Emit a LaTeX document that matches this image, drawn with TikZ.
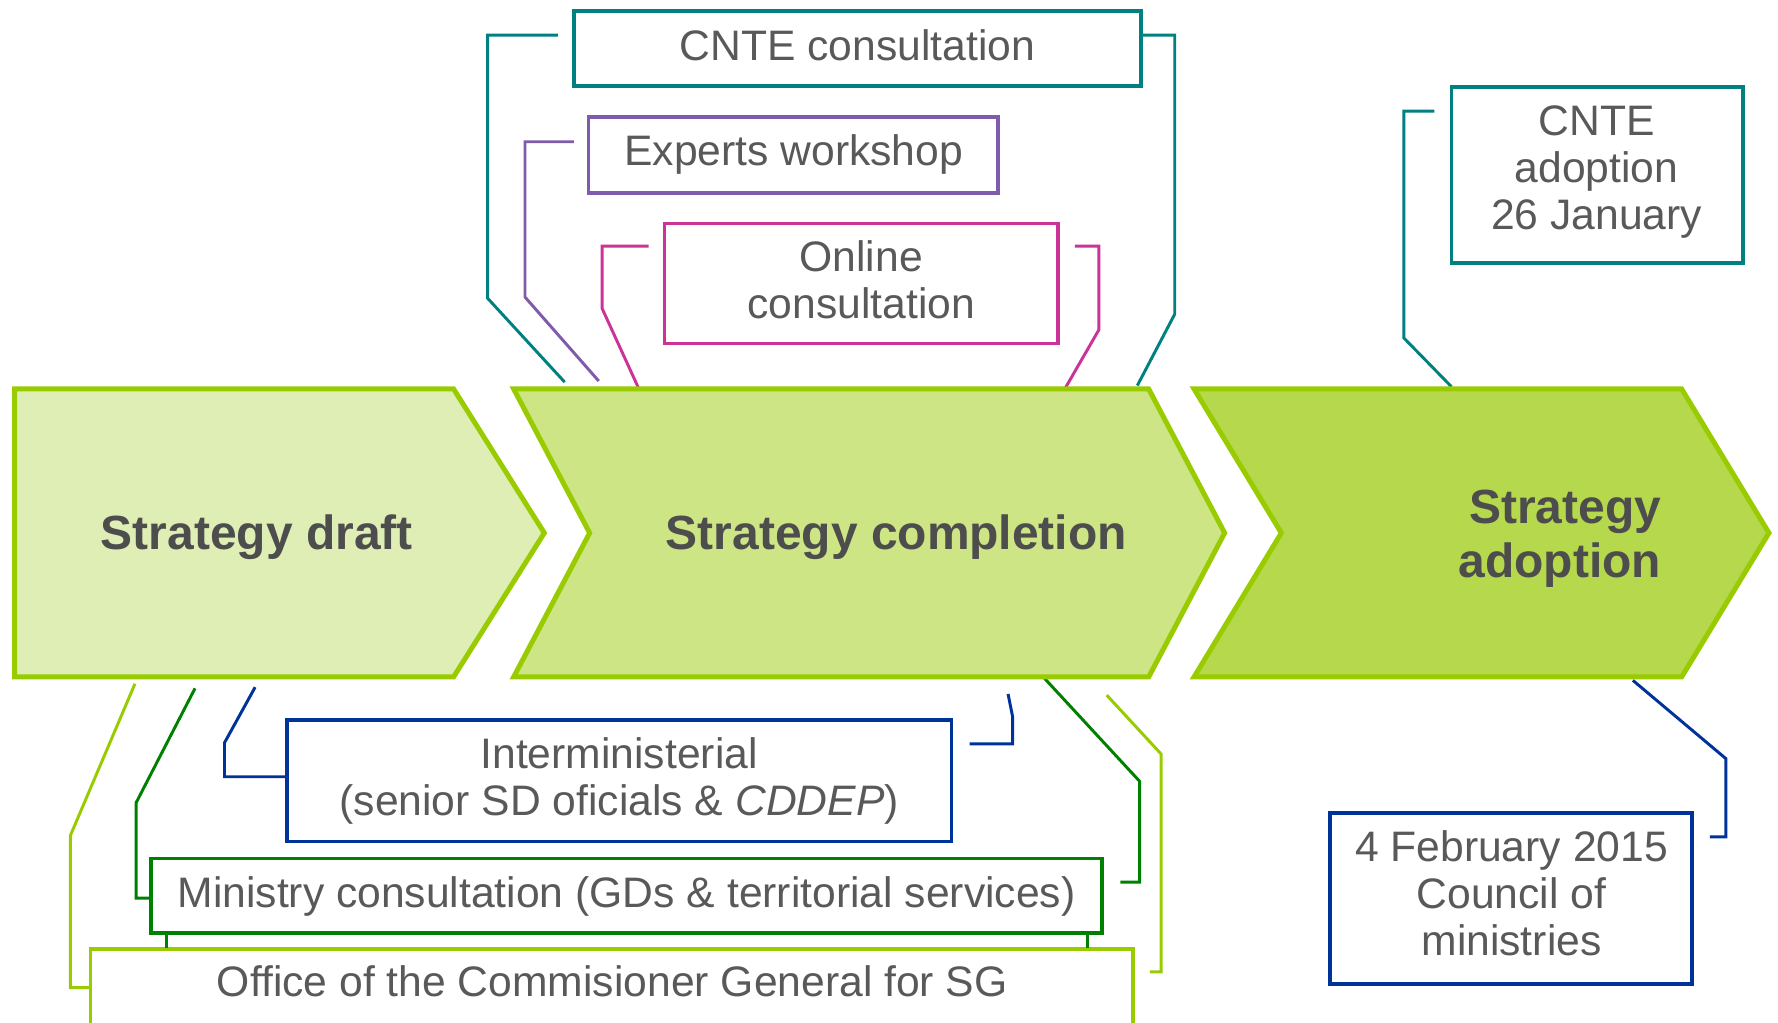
\documentclass[tikz,border=0pt]{standalone}
\usepackage{fontspec}
\setmainfont{Liberation Sans}
\definecolor{limeg}{HTML}{99CC00}
\definecolor{fdraft}{HTML}{DFEEB4}
\definecolor{fcomp}{HTML}{CDE584}
\definecolor{fadopt}{HTML}{B5D84C}
\definecolor{tealc}{HTML}{008080}
\definecolor{purp}{HTML}{7F5BAB}
\definecolor{magc}{HTML}{CC3399}
\definecolor{bluec}{HTML}{003399}
\definecolor{dgreen}{HTML}{008000}
\definecolor{boldtxt}{HTML}{4D4D4D}
\definecolor{regtxt}{HTML}{595959}
\begin{document}
\begin{tikzpicture}[x=1pt,y=-1pt,
  frame/.style={draw, line width=3.3pt, fill=white, inner sep=0pt},
  lab/.style={inner sep=0pt, text=regtxt, font=\fontsize{37.6}{41.5}\selectfont},
  lab1/.style={lab, text height=27pt, text depth=0pt},
  labm/.style={lab, align=center},
  big/.style={inner sep=0pt, text=boldtxt, font=\fontsize{42.3}{47}\selectfont\bfseries},
  conn/.style={line width=2.6pt, line join=miter},
  chev/.style={draw=limeg, line width=4.4pt, line join=miter}]
\clip (0,0) rectangle (1568,902);
\fill[white] (0,0) rectangle (1568,902);
% connector end points
\coordinate (c1s) at (492,31);   \coordinate (c1e) at (498,337);
\coordinate (c2s) at (1008,31);  \coordinate (c2e) at (1003,340);
\coordinate (c3s) at (506,125);  \coordinate (c3e) at (528,336);
\coordinate (c4s) at (572,217);  \coordinate (c4e) at (563,342);
\coordinate (c5s) at (948,217);  \coordinate (c5e) at (939,343);
\coordinate (c6s) at (1265,98);  \coordinate (c6e) at (1280,341);
\coordinate (c7s) at (225,606);  \coordinate (c7e) at (253,685);
\coordinate (c8s) at (889,612);  \coordinate (c8e) at (855,656);
\coordinate (c9s) at (172,607);  \coordinate (c9e) at (133,792);
\coordinate (c10s) at (920,597); \coordinate (c10e) at (988,778);
\coordinate (c11s) at (119,603); \coordinate (c11e) at (80,871);
\coordinate (c12s) at (976,613); \coordinate (c12e) at (1014,857);
\coordinate (c13s) at (1440,600); \coordinate (c13e) at (1508,738);
% connectors
\draw[conn, draw=tealc] (c1s) -- (430,31) -- (430,263) -- (c1e);
\draw[conn, draw=tealc] (c2s) -- (1036,31) -- (1036,277) -- (c2e);
\draw[conn, draw=purp] (c3s) -- (463,125) -- (463,262) -- (c3e);
\draw[conn, draw=magc] (c4s) -- (531,217) -- (531,272) -- (c4e);
\draw[conn, draw=magc] (c5s) -- (969,217) -- (969,291) -- (c5e);
\draw[conn, draw=tealc] (c6s) -- (1238,98) -- (1238,298) -- (c6e);
\draw[conn, draw=bluec] (c7s) -- (198,655) -- (198,685) -- (c7e);
\draw[conn, draw=bluec] (c8s) -- (893,632) -- (893,656) -- (c8e);
\draw[conn, draw=dgreen] (c9s) -- (120,708) -- (120,792) -- (c9e);
\draw[conn, draw=dgreen] (c10s) -- (1005,689) -- (1005,778) -- (c10e);
\draw[conn, draw=limeg] (c11s) -- (62,737) -- (62,871) -- (c11e);
\draw[conn, draw=limeg] (c12s) -- (1024,665) -- (1024,857) -- (c12e);
\draw[conn, draw=bluec] (c13s) -- (1522,669) -- (1522,738) -- (c13e);
% chevrons
\draw[chev, fill=fdraft] (13,343) -- (400,343) -- (480,470) -- (400,597) -- (13,597) -- cycle;
\draw[chev, fill=fcomp] (453,343) -- (1013,343) -- (1080,470) -- (1013,597) -- (453,597) -- (520,470) -- cycle;
\draw[chev, fill=fadopt] (1053,343) -- (1483,343) -- (1560,470) -- (1483,597) -- (1053,597) -- (1130,470) -- cycle;
\node[big, text height=30.4pt, text depth=0pt] (sdraft) at (226.5,469.5) {Strategy draft};
\node[big, text height=30.4pt, text depth=0pt] (scomp) at (790.5,469.5) {Strategy completion};
\node[big, align=right, anchor=east] (sadopt) at (1465,475) {Strategy\\adoption};
% boxes
\node[frame, draw=tealc, minimum width=500pt, minimum height=66pt] (bcntec) at (756,43) {};
\node[lab1] (tcntec) at (756,39.5) {CNTE consultation};
\node[frame, draw=purp, minimum width=361pt, minimum height=67pt] (bexp) at (699.5,136.5) {};
\node[lab1] (texp) at (700,132.5) {Experts workshop};
\node[frame, draw=magc, minimum width=347pt, minimum height=106pt] (bonl) at (759.5,250) {};
\node[labm] (tonl) at (759.5,247) {Online\\consultation};
\node[frame, draw=tealc, minimum width=257pt, minimum height=155pt] (badopt) at (1408.5,154.5) {};
\node[labm] (tadopt) at (1408,151.5) {CNTE\\adoption\\26 January};
\node[frame, draw=bluec, minimum width=586pt, minimum height=107pt] (binter) at (546,688.5) {};
\node[labm] (tinter) at (546,689) {Interministerial\\(senior SD oficials \& \textit{CDDEP})};
\node[frame, draw=dgreen, minimum width=839pt, minimum height=66pt] (bmin) at (552.5,790) {};
\node[lab1] (tmin) at (552.5,786.5) {Ministry consultation (GDs \& territorial services)};
\node[fill=white, inner sep=0pt, minimum width=919pt, minimum height=80pt] (boffice) at (539.5,877) {};
\draw[line width=3.3pt, draw=limeg] (boffice.south west) -- (boffice.north west) -- (boffice.north east) -- (boffice.south east);
\node[lab1] (toffice) at (540,865.5) {Office of the Commisioner General for SG};
\draw[conn, draw=dgreen] (147,823) -- (147,836);
\draw[conn, draw=dgreen] (959,823) -- (959,836);
\node[frame, draw=bluec, minimum width=319pt, minimum height=151pt] (bfeb) at (1332.5,792.5) {};
\node[labm] (tfeb) at (1333,788) {4 February 2015\\Council of\\ministries};
\end{tikzpicture}
\end{document}
